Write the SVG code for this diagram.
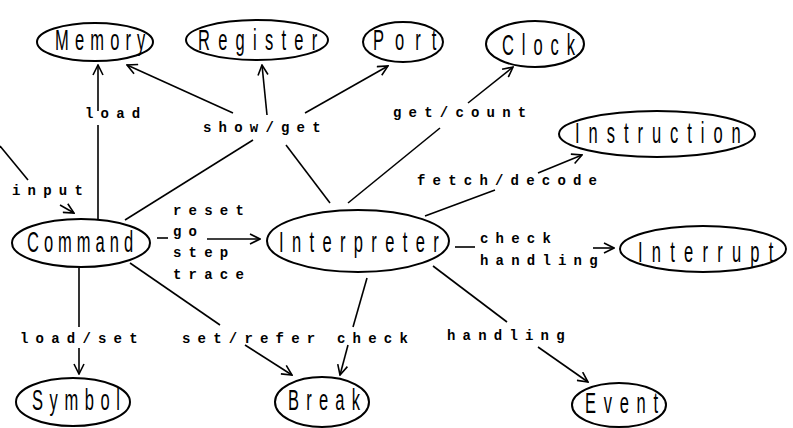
<svg xmlns="http://www.w3.org/2000/svg" width="793" height="428" viewBox="0 0 793 428">
<style>
.node ellipse{fill:none;stroke:#000;stroke-width:2}
.nt{font-family:"Liberation Sans",Arial,sans-serif;font-size:30px;fill:#000}
.lbl{font-family:"Liberation Mono","Courier New",monospace;font-weight:bold;font-size:14px;letter-spacing:7.2px;fill:#000}
#connectors line,#connectors path{stroke:#000;stroke-width:1.6;fill:none}
</style>
<defs>
<marker id="arr" viewBox="0 0 12 12" refX="11" refY="6" markerWidth="12" markerHeight="12" markerUnits="userSpaceOnUse" orient="auto">
<path d="M1,1 L11,6 L1,11" fill="none" stroke="#000" stroke-width="1.6"/>
</marker>
</defs>
<rect width="793" height="428" fill="#fff"/>

<g id="connectors">
<line x1="98" y1="219" x2="98" y2="125"/>
<line x1="98" y1="111" x2="98" y2="65" marker-end="url(#arr)"/>
<line x1="233" y1="113" x2="127" y2="65" marker-end="url(#arr)"/>
<line x1="267" y1="115" x2="262" y2="65" marker-end="url(#arr)"/>
<line x1="305" y1="113" x2="388" y2="66" marker-end="url(#arr)"/>
<line x1="125" y1="220" x2="253" y2="140"/>
<line x1="286" y1="145" x2="330" y2="203"/>
<line x1="348" y1="203" x2="440" y2="128"/>
<line x1="468" y1="103" x2="513" y2="67" marker-end="url(#arr)"/>
<line x1="425" y1="216" x2="495" y2="190"/>
<line x1="538" y1="173" x2="582" y2="155" marker-end="url(#arr)"/>
<line x1="455" y1="247" x2="475" y2="247"/>
<line x1="593" y1="248" x2="614" y2="248" marker-end="url(#arr)"/>
<line x1="157" y1="238" x2="168" y2="238"/>
<line x1="207" y1="239" x2="260" y2="239" marker-end="url(#arr)"/>
<line x1="0" y1="146" x2="28" y2="180"/>
<line x1="60" y1="205" x2="74" y2="213" marker-end="url(#arr)"/>
<line x1="79" y1="268" x2="79" y2="327"/>
<line x1="79" y1="348" x2="79" y2="374" marker-end="url(#arr)"/>
<line x1="130" y1="263" x2="220" y2="325"/>
<line x1="245" y1="345" x2="292" y2="375" marker-end="url(#arr)"/>
<line x1="367" y1="278" x2="353" y2="327"/>
<line x1="348" y1="345" x2="340" y2="375" marker-end="url(#arr)"/>
<line x1="433" y1="266" x2="507" y2="322"/>
<line x1="538" y1="347" x2="588" y2="382" marker-end="url(#arr)"/>
</g>

<g id="labels">
<text class="lbl" x="85" y="118">load</text>
<text class="lbl" x="203" y="132">show/get</text>
<text class="lbl" x="393" y="117">get/count</text>
<text class="lbl" x="417" y="185">fetch/decode</text>
<text class="lbl" x="12" y="195">input</text>
<text class="lbl" x="173" y="215">reset</text>
<text class="lbl" x="173" y="236">go</text>
<text class="lbl" x="173" y="257">step</text>
<text class="lbl" x="173" y="279">trace</text>
<text class="lbl" x="480" y="243">check</text>
<text class="lbl" x="480" y="265">handling</text>
<text class="lbl" x="20" y="343">load/set</text>
<text class="lbl" x="182" y="343">set/refer</text>
<text class="lbl" x="337" y="343">check</text>
<text class="lbl" x="447" y="340">handling</text>
</g>

<g id="Memory" class="node"><ellipse cx="95" cy="42" rx="58" ry="19"/>
<text class="nt" transform="translate(55,50) scale(0.55,1)" style="letter-spacing:11.2px">Memory</text></g>
<g id="Register" class="node"><ellipse cx="257" cy="40" rx="71" ry="20"/>
<text class="nt" transform="translate(198,50) scale(0.55,1)" style="letter-spacing:15px">Register</text></g>
<g id="Port" class="node"><ellipse cx="403" cy="42" rx="40" ry="20"/>
<text class="nt" transform="translate(373,50) scale(0.55,1)" style="letter-spacing:20px">Port</text></g>
<g id="Clock" class="node"><ellipse cx="535" cy="44" rx="49" ry="23"/>
<text class="nt" transform="translate(502,55) scale(0.55,1)" style="letter-spacing:14.4px">Clock</text></g>
<g id="Instruction" class="node"><ellipse cx="657" cy="134" rx="98" ry="23"/>
<text class="nt" transform="translate(575,143) scale(0.55,1)" style="letter-spacing:16.3px">Instruction</text></g>
<g id="Command" class="node"><ellipse cx="81" cy="243" rx="69" ry="24"/>
<text class="nt" transform="translate(27,252) scale(0.55,1)" style="letter-spacing:9.1px">Command</text></g>
<g id="Interpreter" class="node"><ellipse cx="358" cy="241" rx="91" ry="31"/>
<text class="nt" transform="translate(279,252) scale(0.55,1)" style="letter-spacing:15.2px">Interpreter</text></g>
<g id="Interrupt" class="node"><ellipse cx="703" cy="249" rx="83" ry="23"/>
<text class="nt" transform="translate(638,262) scale(0.55,1)" style="letter-spacing:16.8px">Interrupt</text></g>
<g id="Symbol" class="node"><ellipse cx="73" cy="402" rx="57" ry="24"/>
<text class="nt" transform="translate(32,410) scale(0.55,1)" style="letter-spacing:12px">Symbol</text></g>
<g id="Break" class="node"><ellipse cx="322" cy="402" rx="47" ry="25"/>
<text class="nt" transform="translate(288,410) scale(0.55,1)" style="letter-spacing:13.1px">Break</text></g>
<g id="Event" class="node"><ellipse cx="619" cy="405" rx="47" ry="22"/>
<text class="nt" transform="translate(585,413) scale(0.55,1)" style="letter-spacing:14px">Event</text></g>
</svg>
